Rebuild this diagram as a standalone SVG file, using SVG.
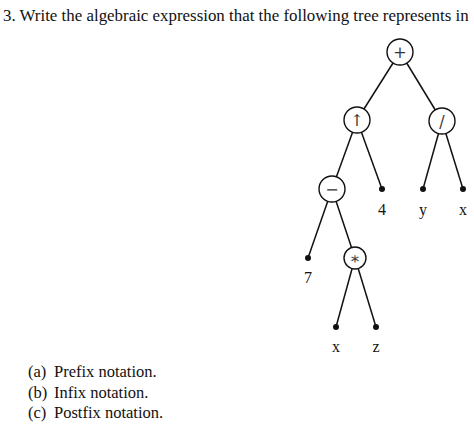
<svg xmlns="http://www.w3.org/2000/svg" width="474" height="431" viewBox="0 0 474 431">
<style>
text{font-family:"Liberation Serif","DejaVu Serif",serif;fill:#111}
.t{font-size:16.9px}
.a{font-size:16.5px}
.lbl{font-size:16px;text-anchor:middle}
.op{font-size:16px;text-anchor:middle;font-family:"DejaVu Serif","Liberation Serif",serif;fill:#333}
.n{fill:#fff;stroke:#111;stroke-width:1.4}
.d{fill:#111}
.e{stroke:#111;stroke-width:1.5;fill:none}
</style>
<rect width="474" height="431" fill="#fff"/>
<text class="t" x="3" y="21">3.  Write the algebraic expression that the following tree represents in</text>
<g id="edges">
<line class="e" x1="400" y1="52" x2="357" y2="120"/>
<line class="e" x1="400" y1="52" x2="442" y2="121"/>
<line class="e" x1="357" y1="120" x2="332" y2="189"/>
<line class="e" x1="357" y1="120" x2="382" y2="189"/>
<line class="e" x1="442" y1="121" x2="423" y2="189"/>
<line class="e" x1="442" y1="121" x2="463" y2="189"/>
<line class="e" x1="332" y1="189" x2="308" y2="258"/>
<line class="e" x1="332" y1="189" x2="355" y2="258"/>
<line class="e" x1="355" y1="258" x2="336" y2="327"/>
<line class="e" x1="355" y1="258" x2="376" y2="327"/>
</g>
<g id="plus"><circle class="n" cx="400" cy="52" r="13"/><text class="op" x="400" y="58">+</text></g>
<g id="up"><circle class="n" cx="357" cy="120" r="13"/><text class="op" x="357" y="126">↑</text></g>
<g id="div"><circle class="n" cx="442" cy="121" r="13"/><text class="op" x="442" y="127">/</text></g>
<g id="minus"><circle class="n" cx="332" cy="189" r="13"/><text class="op" x="332" y="195">−</text></g>
<g id="times"><circle class="n" cx="355" cy="258" r="11"/><text class="op" x="355" y="264">∗</text></g>
<g id="leaf4"><circle class="d" cx="382" cy="189" r="3"/><text class="lbl" x="382" y="215">4</text></g>
<g id="leafy"><circle class="d" cx="423" cy="189" r="3"/><text class="lbl" x="423" y="215">y</text></g>
<g id="leafx1"><circle class="d" cx="463" cy="189" r="3"/><text class="lbl" x="463" y="215">x</text></g>
<g id="leaf7"><circle class="d" cx="308" cy="258" r="3"/><text class="lbl" x="308" y="283">7</text></g>
<g id="leafx2"><circle class="d" cx="336" cy="327" r="3"/><text class="lbl" x="336" y="352">x</text></g>
<g id="leafz"><circle class="d" cx="376" cy="327" r="3"/><text class="lbl" x="376" y="352">z</text></g>
<text class="a" x="28" y="377">(a)</text><text class="a" x="54" y="377">Prefix notation.</text>
<text class="a" x="28" y="398">(b)</text><text class="a" x="54" y="398">Infix notation.</text>
<text class="a" x="28" y="418">(c)</text><text class="a" x="54" y="418">Postfix notation.</text>
</svg>
